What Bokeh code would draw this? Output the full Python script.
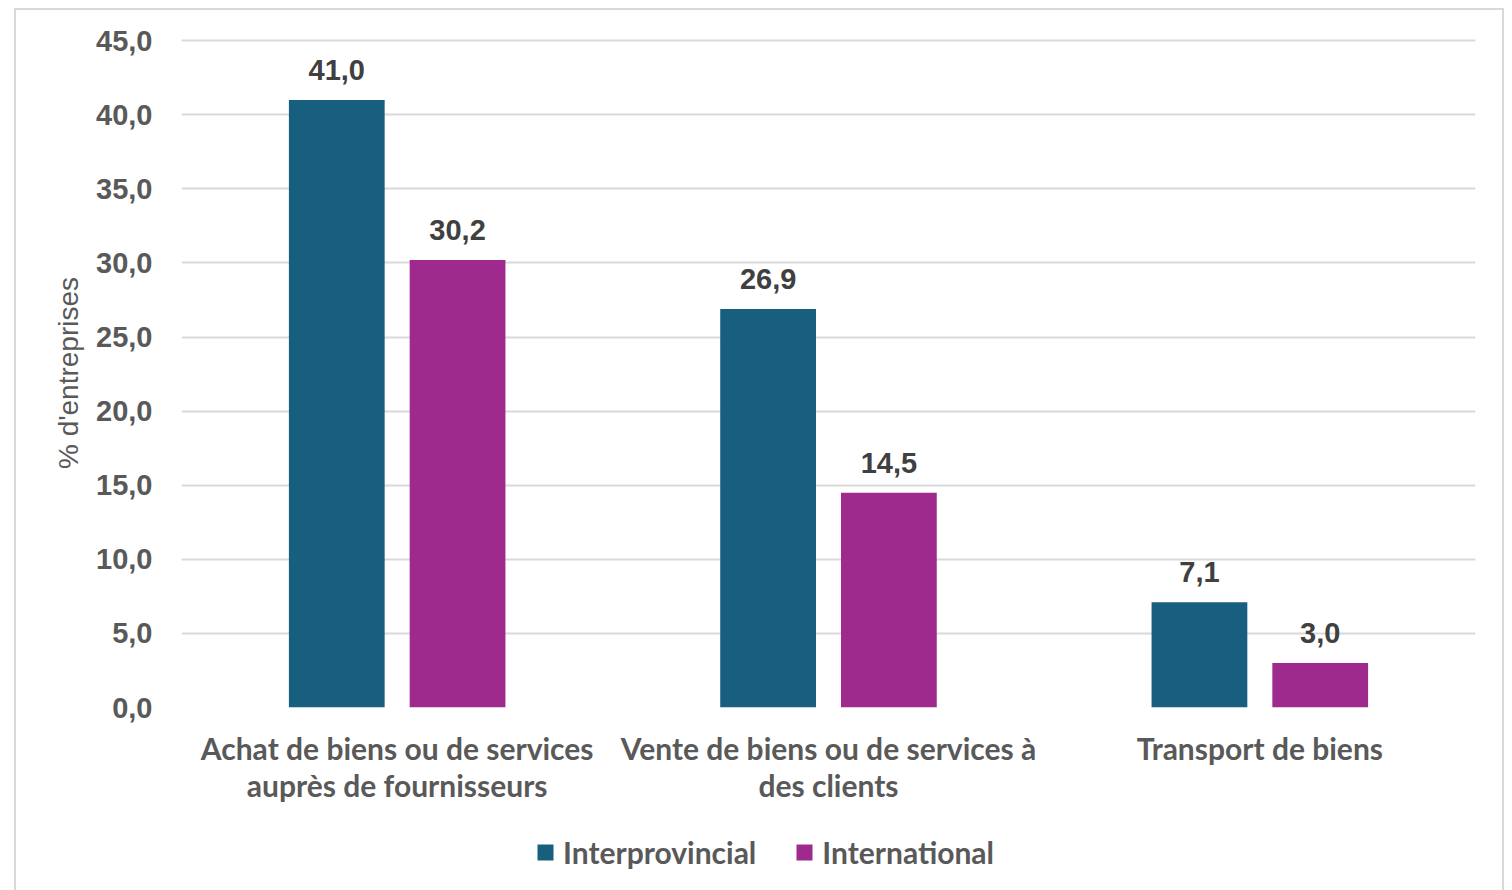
from bokeh.plotting import figure
from bokeh.layouts import column
from bokeh.models import (ColumnDataSource, Range1d, FactorRange, FixedTicker, Legend, LegendItem,
                          InlineStyleSheet)
from bokeh.transform import dodge
from bokeh.core.properties import value
from bokeh.embed import file_html
from bokeh.resources import INLINE

categories = ["Achat de biens ou de services\nauprès de fournisseurs",
              "Vente de biens ou de services à\ndes clients",
              "Transport de biens"]
series_names = ["Interprovincial", "International"]
interprovincial = [41.0, 26.9, 7.1]
international = [30.2, 14.5, 3.0]
y_ticks = [0, 5, 10, 15, 20, 25, 30, 35, 40, 45]

def fmt(v):
    return f"{v:.1f}".replace(".", ",")

src = ColumnDataSource(dict(
    cat=categories,
    inter=interprovincial,
    intl=international,
    inter_lbl=[fmt(v) for v in interprovincial],
    intl_lbl=[fmt(v) for v in international],
))

BLUE = "#175E7F"
MAG = "#9F2A8E"
GRID = "#D9D9D9"
TXT = "#595959"

p = figure(x_range=FactorRange(*categories), y_range=Range1d(0, 45.15),
           width=1504, height=830, output_backend="svg", toolbar_location=None,
           min_border_left=181, min_border_right=29, min_border_top=38, min_border_bottom=123)
p.outline_line_color = None
p.background_fill_color = "white"
p.border_fill_color = "white"

p.vbar(x=dodge("cat", -0.14, range=p.x_range), top="inter", width=0.222, source=src,
       fill_color=BLUE, line_color=None)
p.vbar(x=dodge("cat", 0.14, range=p.x_range), top="intl", width=0.222, source=src,
       fill_color=MAG, line_color=None)

for col, off in (("inter", -0.14), ("intl", 0.14)):
    p.text(x=dodge("cat", off, range=p.x_range), y=col, text=col + "_lbl", source=src,
           text_align="center", text_baseline="alphabetic", y_offset=-30,
           text_font=value("Liberation Sans"), text_font_style="bold",
           text_font_size="29px", text_color="#404040")

# axes
p.yaxis.ticker = FixedTicker(ticks=y_ticks)
p.yaxis.major_label_overrides = {t: fmt(t) for t in y_ticks}
p.yaxis.major_label_text_font = "Liberation Sans"
p.yaxis.major_label_text_font_style = "bold"
p.yaxis.major_label_text_font_size = "29px"
p.yaxis.major_label_text_color = TXT
p.yaxis.major_label_standoff = 29
p.yaxis.major_tick_out = 0
p.yaxis.major_tick_in = 0
p.yaxis.axis_line_color = None
p.yaxis.major_tick_line_color = None
p.yaxis.minor_tick_line_color = None
p.yaxis.axis_label = "% d'entreprises"
p.yaxis.axis_label_text_font = "Liberation Sans"
p.yaxis.axis_label_text_font_style = "normal"
p.yaxis.axis_label_text_font_size = "28px"
p.yaxis.axis_label_text_color = TXT
p.yaxis.axis_label_standoff = 9

p.xaxis.major_label_text_font = "Lato"
p.xaxis.major_label_text_font_style = "bold"
p.xaxis.major_label_text_font_size = "30px"
p.xaxis.major_label_text_color = TXT
p.xaxis.major_label_text_line_height = 1.05
p.xaxis.major_label_standoff = 22
p.xaxis.major_tick_out = 0
p.xaxis.major_tick_in = 0
p.xaxis.axis_line_color = None
p.xaxis.major_tick_line_color = None
p.xaxis.minor_tick_line_color = None

p.xgrid.grid_line_color = None
p.ygrid.grid_line_color = GRID
p.ygrid.grid_line_width = 2

# legend strip below the chart (its frame is aligned with the main frame by the column)
lg = figure(width=1504, height=60, output_backend="svg", toolbar_location=None,
            x_axis_type=None, y_axis_type=None, min_border=0,
            x_range=Range1d(0, 1), y_range=Range1d(0, 1))
lg.outline_line_color = None
lg.grid.grid_line_color = None
lg.border_fill_color = "white"
nan = float("nan")
lr1 = lg.vbar(x=[nan], top=[nan], width=0.1, fill_color=BLUE, line_color=None)
lr2 = lg.vbar(x=[nan], top=[nan], width=0.1, fill_color=MAG, line_color=None)
legend = Legend(items=[LegendItem(label=series_names[0], renderers=[lr1]),
                       LegendItem(label=series_names[1], renderers=[lr2])],
                location=(354, 20), orientation="horizontal",
                glyph_width=20, glyph_height=20, label_standoff=8, spacing=38,
                padding=0, margin=0, border_line_color=None, background_fill_alpha=0,
                label_text_font="Lato", label_text_font_style="bold",
                label_text_font_size="30px", label_text_color=TXT)
lg.add_layout(legend, "center")

layout = column(p, lg, spacing=0)
layout.stylesheets = [InlineStyleSheet(css="""
:host::after {
  content: "";
  position: absolute;
  left: 14px; top: 8px; right: 0px; bottom: -10px;
  border: 2px solid #D9D9D9;
  pointer-events: none;
  z-index: 10;
}
""")]

open("out.html", "w").write(file_html(layout, INLINE))
